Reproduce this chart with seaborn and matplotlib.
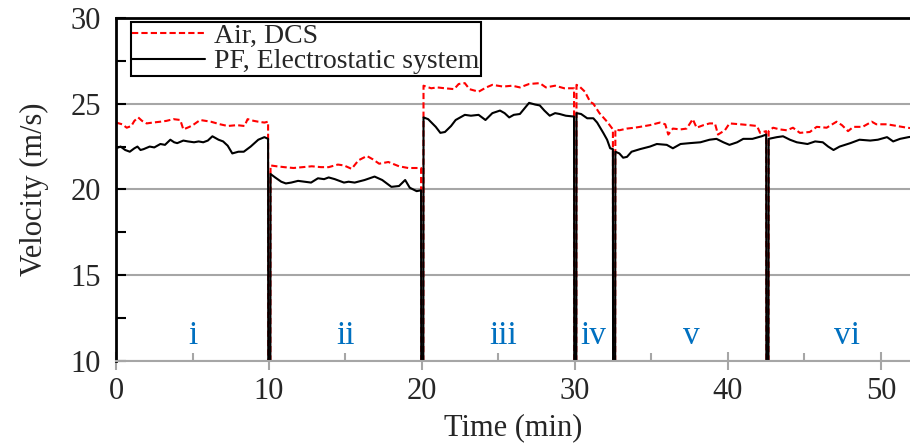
import matplotlib
matplotlib.use("Agg")
import matplotlib.pyplot as plt
import seaborn as sns

# Air velocity measured by the DCS (red dashed); 0 marks the signal drop between conditions
air_time = [
    0.0, 0.4, 0.7, 1.0, 1.2, 1.45, 1.7, 2.0, 2.4, 2.9, 3.3, 3.75, 4.2, 4.4, 4.8, 5.1, 5.5, 6.2, 6.8,
    7.3, 7.9, 8.4, 8.6, 9.0, 9.3, 9.7, 9.94,
    9.96, 10.08,
    10.1, 10.5, 11.0, 11.6, 12.2, 12.8, 13.4, 13.9, 14.5, 14.9, 15.4, 15.85, 16.4, 16.8, 17.2, 17.8,
    18.5, 19.1, 19.6, 19.94,
    19.96, 20.08,
    20.1, 20.6, 21.0, 21.5, 22.1, 22.4, 22.8, 23.1, 23.7, 24.2, 24.6, 25.3, 25.9, 26.4, 27.0, 27.7,
    28.1, 28.7, 29.3, 29.94,
    29.96, 30.08,
    30.1, 30.3, 30.65, 31.0, 31.2, 31.6, 32.1, 32.48,
    32.5, 32.62,
    32.64, 32.9, 33.4, 33.9, 34.25, 34.9, 35.55, 35.9, 36.1, 36.4, 36.9, 37.3, 37.7, 37.95, 38.4, 38.8,
    39.15, 39.35, 39.8, 40.1, 40.8, 41.4, 41.9, 42.1, 42.5,
    42.52, 42.64,
    42.66, 42.95, 43.4, 43.85, 44.25, 44.7, 45.35, 45.8, 46.45, 47.1, 47.45, 47.85, 48.2, 48.8, 49.4,
    49.7, 50.4, 51.05, 51.7, 52.2,
]
air_velocity = [
    23.9, 23.8, 23.6, 23.7, 24.0, 24.2, 24.0, 23.85, 23.9, 23.95, 24.0, 24.1, 24.05, 23.5, 23.65, 23.8,
    24.05, 23.95, 23.8, 23.7, 23.75, 23.7, 24.1, 24.0, 23.95, 23.9, 23.95,
    0, 0,
    21.4, 21.35, 21.3, 21.25, 21.3, 21.35, 21.3, 21.3, 21.45, 21.4, 21.2, 21.7, 21.95, 21.75, 21.5,
    21.6, 21.35, 21.25, 21.25, 21.25,
    0, 0,
    26.05, 25.9, 25.95, 25.9, 25.85, 26.15, 26.2, 25.85, 25.7, 25.95, 26.1, 26.0, 26.05, 25.95, 26.15,
    26.2, 25.95, 26.05, 25.9, 25.9,
    0, 0,
    26.1, 26.0, 25.7, 25.1, 25.0, 24.45, 23.95, 23.5,
    0, 0,
    23.5, 23.45, 23.55, 23.6, 23.65, 23.75, 23.9, 23.8, 23.2, 23.55, 23.5, 23.55, 24.1, 23.6, 23.75,
    23.85, 23.85, 23.2, 23.45, 23.85, 23.8, 23.75, 23.7, 23.3, 23.4,
    0, 0,
    23.4, 23.6, 23.5, 23.45, 23.6, 23.3, 23.35, 23.65, 23.6, 23.95, 23.75, 23.4, 23.65, 23.65, 23.95,
    23.8, 23.8, 23.7, 23.6, 23.55,
]

# Pulverised fuel velocity from the electrostatic system (black solid)
pf_time = [
    0.0, 0.3, 0.6, 0.9, 1.2, 1.4, 1.6, 1.8, 2.2, 2.5, 2.9, 3.2, 3.55, 3.8, 4.0, 4.4, 4.7, 5.1, 5.4,
    5.7, 6.0, 6.3, 6.7, 7.0, 7.3, 7.6, 8.0, 8.35, 8.8, 9.3, 9.7, 9.94,
    9.96, 10.08,
    10.1, 10.4, 10.8, 11.1, 11.45, 11.9, 12.3, 12.75, 13.2, 13.6, 13.9, 14.3, 14.9, 15.2, 15.6, 16.25,
    16.9, 17.4, 18.0, 18.5, 18.9, 19.2, 19.65, 19.94,
    19.96, 20.08,
    20.1, 20.4, 20.9, 21.2, 21.5, 21.9, 22.2, 22.8, 23.2, 23.7, 24.15, 24.6, 25.1, 25.4, 25.7, 26.0,
    26.4, 27.0, 27.4, 27.7, 28.0, 28.35, 28.7, 29.0, 29.4, 29.94,
    29.96, 30.08,
    30.1, 30.4, 30.8, 31.2, 31.45, 31.85, 32.1, 32.3, 32.48,
    32.5, 32.62,
    32.64, 32.9, 33.15, 33.4, 33.7, 34.25, 34.9, 35.35, 36.0, 36.4, 36.9, 37.5, 38.2, 38.8, 39.25, 39.7,
    40.1, 40.6, 41.0, 41.6, 42.2, 42.5,
    42.52, 42.64,
    42.66, 43.2, 43.6, 44.05, 44.5, 45.2, 45.7, 46.2, 46.55, 46.9, 47.3, 48.0, 48.6, 49.3, 49.8, 50.4,
    50.8, 51.25, 51.8, 52.2,
]
pf_velocity = [
    22.4, 22.5, 22.3, 22.2, 22.4, 22.5, 22.3, 22.35, 22.5, 22.45, 22.65, 22.6, 22.9, 22.75, 22.7, 22.85,
    22.8, 22.75, 22.8, 22.75, 22.85, 23.1, 22.9, 22.8, 22.55, 22.1, 22.2, 22.2, 22.5, 22.9, 23.05, 22.95,
    0, 0,
    20.9, 20.7, 20.45, 20.35, 20.4, 20.5, 20.45, 20.4, 20.65, 20.6, 20.7, 20.6, 20.4, 20.45, 20.4, 20.55,
    20.75, 20.55, 20.15, 20.2, 20.55, 20.1, 19.9, 19.95,
    0, 0,
    24.2, 24.1, 23.65, 23.3, 23.35, 23.7, 24.05, 24.35, 24.3, 24.35, 24.05, 24.45, 24.6, 24.45, 24.2,
    24.35, 24.4, 25.05, 24.95, 24.9, 24.6, 24.3, 24.45, 24.4, 24.3, 24.25,
    0, 0,
    24.45, 24.4, 24.15, 24.15, 23.9, 23.3, 22.9, 22.4, 22.35,
    0, 0,
    22.2, 22.1, 21.85, 21.9, 22.2, 22.35, 22.5, 22.65, 22.6, 22.4, 22.65, 22.7, 22.75, 22.9, 22.95,
    22.75, 22.6, 22.75, 22.95, 22.95, 23.1, 23.2,
    0, 0,
    22.95, 23.05, 23.1, 22.9, 22.75, 22.65, 22.8, 22.75, 22.5, 22.3, 22.5, 22.7, 22.9, 22.85, 22.9,
    23.05, 22.8, 22.95, 23.05, 23.1,
]

# test condition labels and where they sit on the time axis
stage_labels = ["i", "ii", "iii", "iv", "v", "vi"]
stage_centres = [5, 15, 25.3, 31.2, 37.6, 47.8]

sns.set_style("white")
plt.rcParams["font.family"] = ["Liberation Serif", "DejaVu Serif"]

fig = plt.figure(figsize=(9.1, 4.45), dpi=100)
ax = fig.add_axes([0.1275, 0.189, 0.8725, 0.7706])

sns.lineplot(x=air_time, y=air_velocity, ax=ax, estimator=None, sort=False,
             color="#FF0000", linewidth=1.5, linestyle=(0, (3, 1.5)), label="Air, DCS")
sns.lineplot(x=pf_time, y=pf_velocity, ax=ax, estimator=None, sort=False,
             color="black", linewidth=1.5, label="PF, Electrostatic system")

for lab, xc in zip(stage_labels, stage_centres):
    ax.text(xc, 11.0, lab, color="#0070C0", fontsize=24, ha="center", va="baseline")

ax.set_xlim(0, 51.9)
ax.set_ylim(10, 30)
ax.set_xticks(range(0, 51, 10))
ax.set_xticks(range(5, 51, 10), minor=True)
ax.set_yticks([10, 15, 20, 25, 30])
ax.set_yticks([12.5, 17.5, 22.5, 27.5], minor=True)

ax.grid(axis="y", which="major", color="#A6A6A6", linewidth=1.5)
ax.grid(axis="x", visible=False)
ax.set_axisbelow(True)

for side in ["top", "left"]:
    ax.spines[side].set_color("black")
    ax.spines[side].set_linewidth(2)
ax.spines["bottom"].set_color("#A6A6A6")
ax.spines["bottom"].set_linewidth(1.5)
ax.spines["right"].set_visible(False)

ax.tick_params(axis="y", which="both", direction="in", length=7, width=1.5,
               color="black", labelsize=22, pad=11)
ax.tick_params(axis="x", which="major", direction="inout", length=13, width=1.5,
               color="#A6A6A6", labelsize=22, pad=5)
ax.tick_params(axis="x", which="minor", direction="in", length=6, width=1.5,
               color="#A6A6A6")
ax.tick_params(axis="x", which="both", bottom=True)
ax.tick_params(axis="y", which="both", left=True)

ax.set_xlabel("Time (min)", fontsize=22, labelpad=5)
ax.set_ylabel("Velocity (m/s)", fontsize=22, labelpad=15)

leg = ax.legend(loc="upper left", bbox_to_anchor=(0.019, 0.988), fontsize=20,
                frameon=True, fancybox=False, handlelength=2.6, borderpad=0.05,
                labelspacing=0.0, handletextpad=0.35, borderaxespad=0)
leg.get_frame().set_edgecolor("black")
leg.get_frame().set_linewidth(1.5)
leg.get_frame().set_alpha(1)

fig.savefig("out.png", dpi=100)
